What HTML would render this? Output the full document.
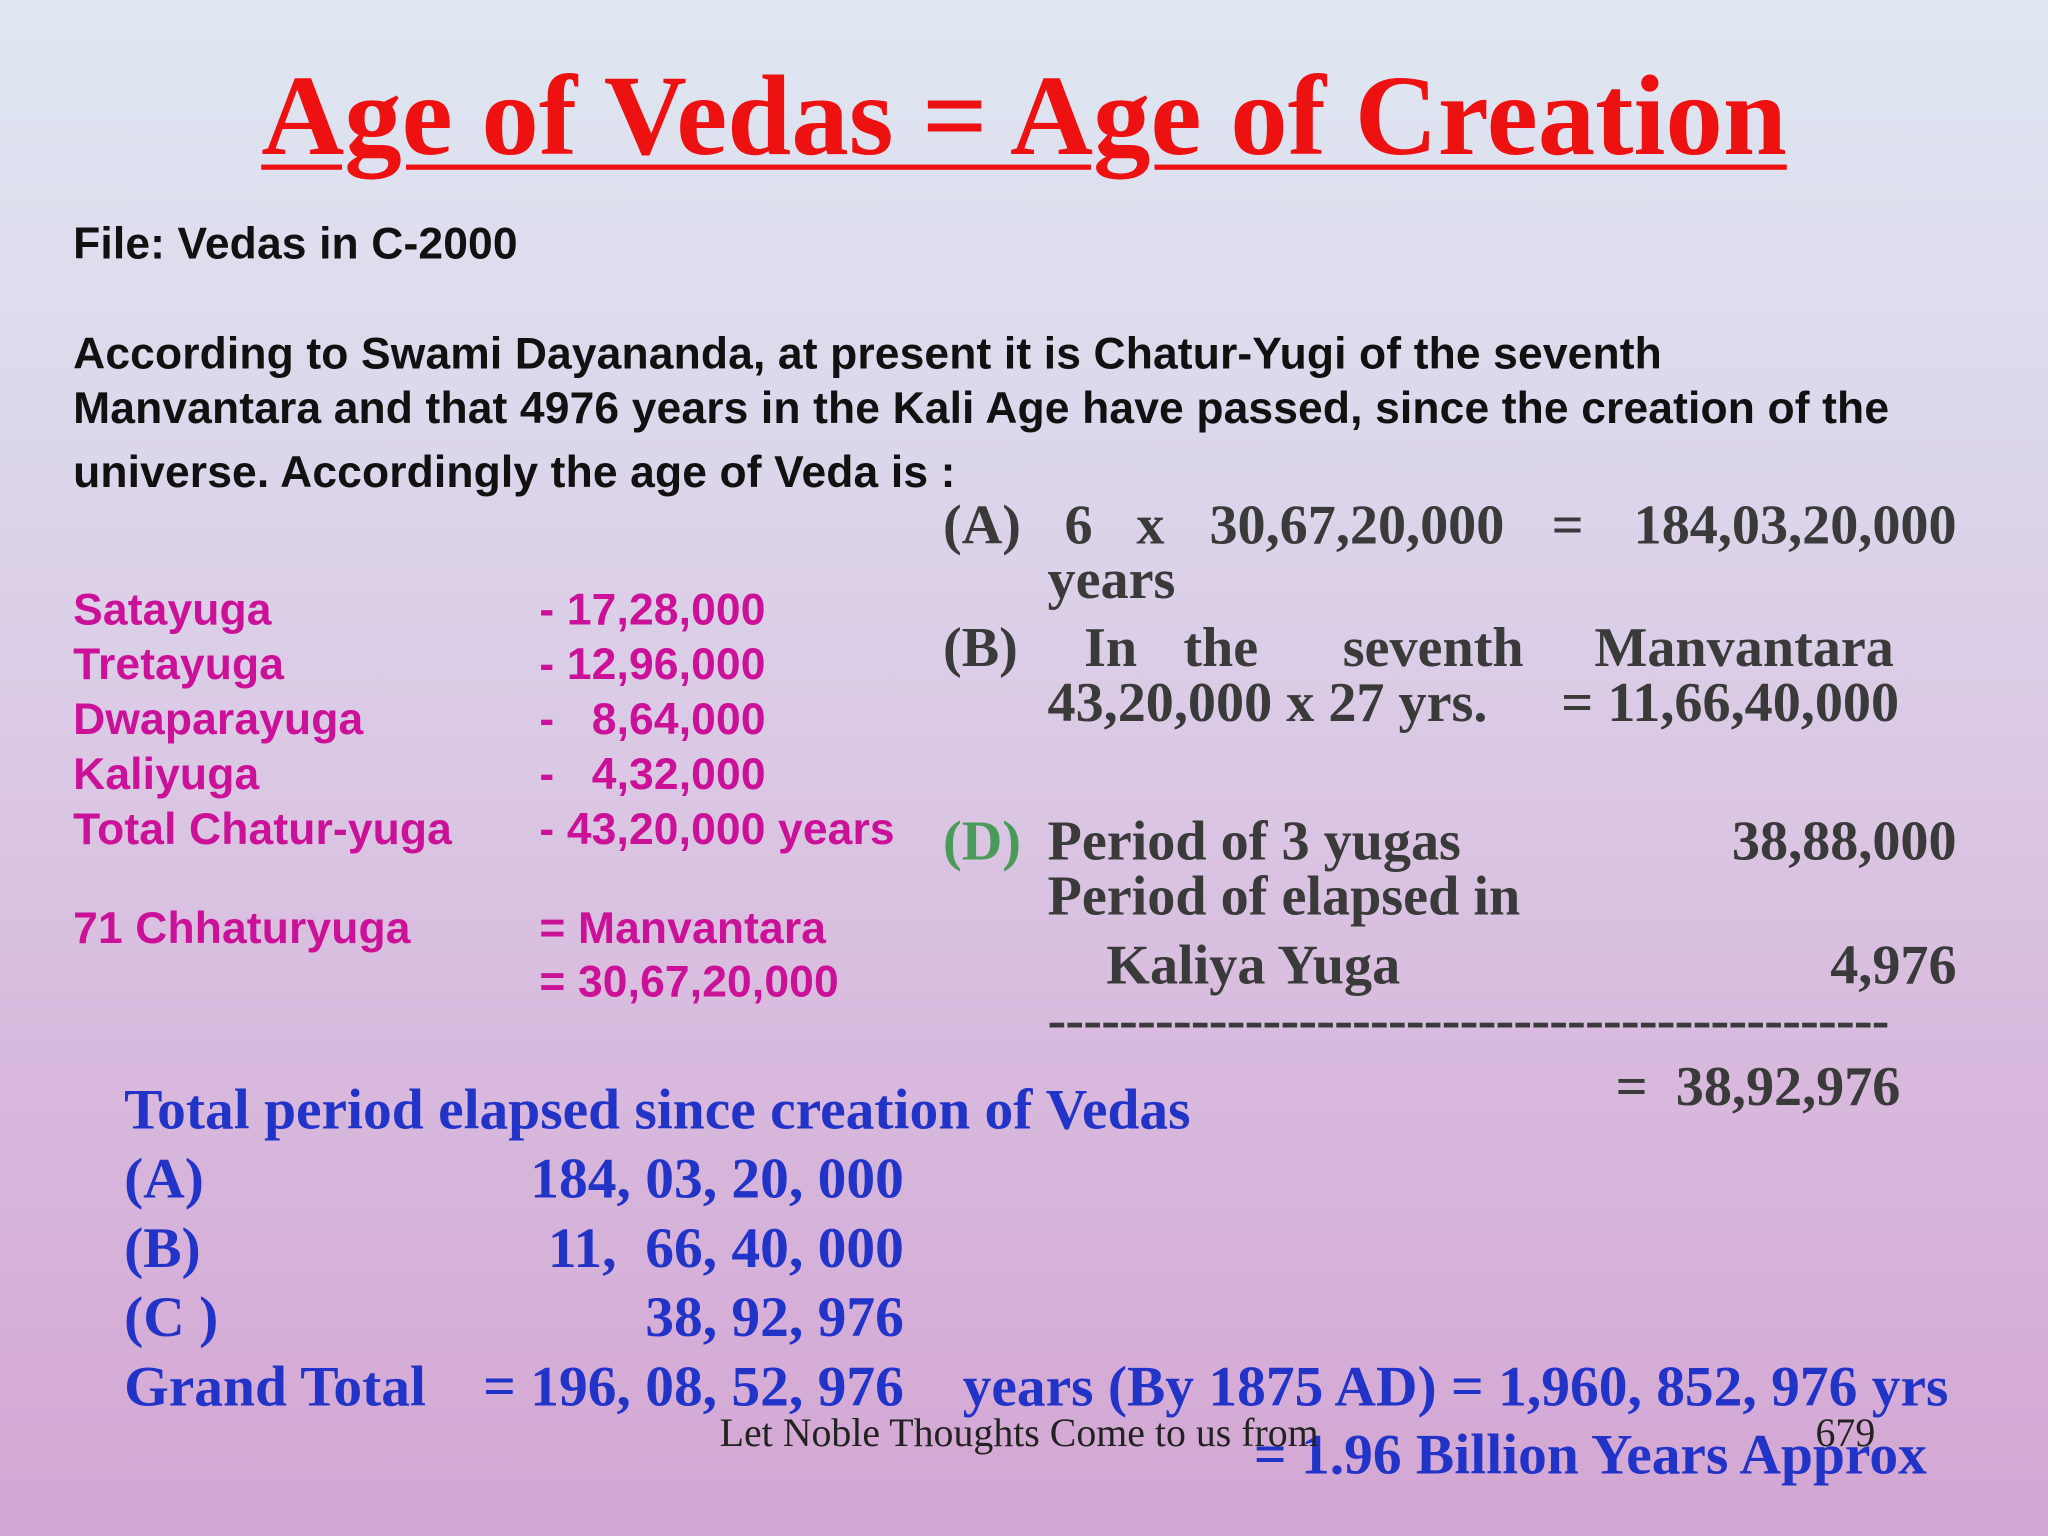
<!DOCTYPE html>
<html>
<head>
<meta charset="utf-8">
<style>
html,body{margin:0;padding:0}
body{width:2048px;height:1536px;overflow:hidden;background:linear-gradient(180deg,#dfe7f1 0%,#dcd3ea 35%,#d8b9dd 70%,#d3a6d3 100%);}
#s{position:absolute;left:0;top:0;width:1568px;height:1176px;transform:scale(1.30612);transform-origin:0 0}
.t{position:absolute;white-space:nowrap}
.sans{font-family:"Liberation Sans",sans-serif;font-weight:bold}
.serif{font-family:"Liberation Serif",serif;font-weight:bold}
.p{font-size:34px;line-height:40px;color:#111;letter-spacing:0.1px}
.m{font-size:34px;line-height:40px;color:#cc1199;letter-spacing:0.1px}
.g{font-size:43px;line-height:48px;color:#3a3a3a}
.b{font-size:44px;line-height:50px;color:#2233c8}
</style>
</head>
<body>
<div id="s">
<div class="t serif" style="left:0;width:1568px;text-align:center;top:40px;font-size:88px;line-height:100px;color:#ee1111;text-decoration:underline;text-decoration-thickness:4px;text-underline-offset:8px">Age of Vedas = Age of Creation</div>

<div class="t sans p" style="left:56px;top:167px">File: Vedas in C-2000</div>
<div class="t sans p" style="left:56px;top:251px">According to Swami Dayananda, at present it is Chatur-Yugi of the seventh</div>
<div class="t sans p" style="left:56px;top:293px">Manvantara and that 4976 years in the Kali Age have passed, since the creation of the</div>
<div class="t sans p" style="left:56px;top:342px">universe. Accordingly the age of Veda is :</div>

<div>
<div class="t sans m" style="left:56px;top:447px">Satayuga</div><div class="t sans m" style="left:413px;top:447px">- 17,28,000</div>
<div class="t sans m" style="left:56px;top:489px">Tretayuga</div><div class="t sans m" style="left:413px;top:489px">- 12,96,000</div>
<div class="t sans m" style="left:56px;top:531px">Dwaparayuga</div><div class="t sans m" style="left:413px;top:531px">-&nbsp;&nbsp; 8,64,000</div>
<div class="t sans m" style="left:56px;top:573px">Kaliyuga</div><div class="t sans m" style="left:413px;top:573px">-&nbsp;&nbsp; 4,32,000</div>
<div class="t sans m" style="left:56px;top:615px">Total Chatur-yuga</div><div class="t sans m" style="left:413px;top:615px">- 43,20,000 years</div>
<div class="t sans m" style="left:56px;top:691px">71 Chhaturyuga</div><div class="t sans m" style="left:413px;top:691px">= Manvantara</div>
<div class="t sans m" style="left:413px;top:732px">= 30,67,20,000</div>
</div>

<div>
<div class="t serif g" style="left:722px;top:379px">(A)</div>
<div class="t serif g" style="left:815px;top:379px">6</div>
<div class="t serif g" style="left:870px;top:379px">x</div>
<div class="t serif g" style="left:926px;top:379px">30,67,20,000</div>
<div class="t serif g" style="left:1188px;top:379px">=</div>
<div class="t serif g" style="right:70px;top:379px">184,03,20,000</div>
<div class="t serif g" style="left:802px;top:421px">years</div>
<div class="t serif g" style="left:722px;top:473px">(B)</div>
<div class="t serif g" style="left:830px;top:473px">In</div>
<div class="t serif g" style="left:906px;top:473px">the</div>
<div class="t serif g" style="left:1028px;top:473px">seventh</div>
<div class="t serif g" style="right:118px;top:473px">Manvantara</div>
<div class="t serif g" style="left:802px;top:515px">43,20,000 x 27 yrs.</div>
<div class="t serif g" style="right:114px;top:515px">= 11,66,40,000</div>
<div class="t serif g" style="left:722px;top:621px;color:#4a9a5a">(D)</div>
<div class="t serif g" style="left:802px;top:621px">Period of 3 yugas</div>
<div class="t serif g" style="right:70px;top:621px">38,88,000</div>
<div class="t serif g" style="left:802px;top:663px">Period of elapsed in</div>
<div class="t serif g" style="left:847px;top:716px">Kaliya Yuga</div>
<div class="t serif g" style="right:70px;top:716px">4,976</div>
<div class="t serif g" style="left:802px;top:758px;width:643px;overflow:hidden;letter-spacing:-0.6px">-------------------------------------------------------</div>
<div class="t serif g" style="right:113px;top:809px">=&nbsp; 38,92,976</div>
</div>

<div>
<div class="t serif b" style="left:95px;top:825px">Total period elapsed since creation of Vedas</div>
<div class="t serif b" style="left:95px;top:878px">(A)</div><div class="t serif b" style="right:876px;top:878px">184, 03, 20, 000</div>
<div class="t serif b" style="left:95px;top:931px">(B)</div><div class="t serif b" style="right:876px;top:931px">11,&nbsp; 66, 40, 000</div>
<div class="t serif b" style="left:95px;top:984px">(C )</div><div class="t serif b" style="right:876px;top:984px">38, 92, 976</div>
<div class="t serif b" style="left:95px;top:1037px">Grand Total</div><div class="t serif b" style="right:876px;top:1037px">= 196, 08, 52, 976</div>
<div class="t serif b" style="left:737px;top:1037px">years (By 1875 AD) = 1,960, 852, 976 yrs</div>
<div class="t serif b" style="left:960px;top:1089px">= 1.96 Billion Years Approx</div>
</div>

<div class="t" style="left:551px;top:1080px;font-family:'Liberation Serif',serif;font-size:30.5px;line-height:34px;color:#222">Let Noble Thoughts Come to us from</div>
<div class="t" style="left:1390px;top:1080px;font-family:'Liberation Serif',serif;font-size:30.5px;line-height:34px;color:#222">679</div>
</div>
</body>
</html>
